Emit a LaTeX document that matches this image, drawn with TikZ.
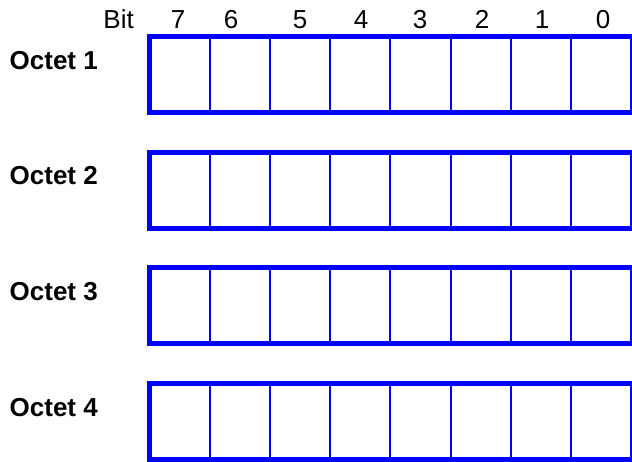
\documentclass[tikz,border=0pt]{standalone}
\usepackage{fontspec}
\setmainfont{Liberation Sans}
\usepackage{tikz}
\usetikzlibrary{positioning}

\definecolor{regblue}{RGB}{0,0,255}

\begin{document}
\begin{tikzpicture}[
    x=1pt, y=-1pt,
    octet/.style={anchor=base west, inner sep=0pt, font=\fontsize{26}{30}\selectfont\bfseries},
    bitnum/.style={anchor=base, inner sep=0pt, font=\fontsize{26}{30}\selectfont},
    frame/.style={draw=regblue, line width=5pt},
    divider/.style={draw=regblue, line width=2pt}
]
\useasboundingbox (0,0) rectangle (632,461);

% bit numbers
\node[bitnum, anchor=base east] (bit) at (134,28) {Bit};
\foreach \b/\x in {7/178, 6/231, 5/300, 4/361, 3/420, 2/482, 1/542, 0/603}
  \node[bitnum] (bit\b) at (\x,28) {\b};

% octet rows
\foreach \n in {1,...,4} {
  \pgfmathsetmacro{\top}{36.5+115.7*(\n-1)}
  \pgfmathsetmacro{\bot}{\top+76}
  \node[octet] (oct\n) at (9.5,{69+115.7*(\n-1)}) {Octet \n};
  \foreach \i in {1,...,7}
    \draw[divider] ({149.5+60.2*\i},\top) -- ({149.5+60.2*\i},\bot);
  \draw[divider] (631,\top) -- (631,\bot);
  \draw[frame] (633,\top) -- (149.5,\top) -- (149.5,\bot) -- (633,\bot);
}
\end{tikzpicture}
\end{document}
